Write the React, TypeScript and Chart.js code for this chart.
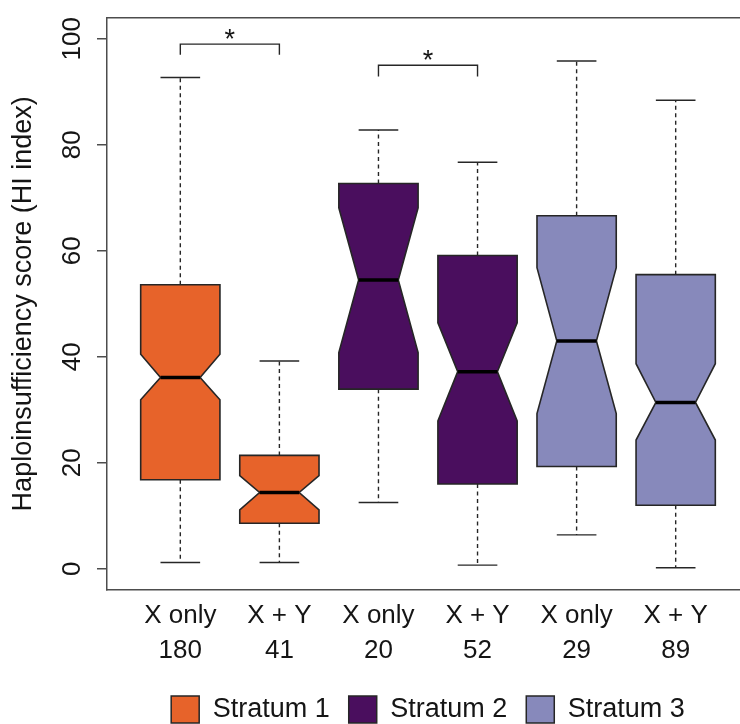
import { useEffect, useRef } from "react";
import { Chart, registerables } from "chart.js";

Chart.register(...registerables);

// ---- data ----
const groupLabels = ["X only", "X + Y", "X only", "X + Y", "X only", "X + Y"];
const groupCounts = [180, 41, 20, 52, 29, 89];
const groupPositions = [1, 2, 3, 4, 5, 6];
const groupStratum = [0, 0, 1, 1, 2, 2];
const strataNames = ["Stratum 1", "Stratum 2", "Stratum 3"];
const strataColors = ["#E7632A", "#4A0E5E", "#8789BB"];

const whiskerLow = [1.2, 1.2, 12.5, 0.7, 6.4, 0.2];
const quartile1 = [16.8, 8.6, 33.9, 16.0, 19.3, 12.0];
const notchLow = [31.9, 11.1, 40.8, 27.9, 29.3, 24.3];
const medians = [36.1, 14.4, 54.5, 37.2, 43.0, 31.4];
const notchHigh = [40.5, 17.6, 68.1, 46.4, 56.8, 38.7];
const quartile3 = [53.6, 21.4, 72.7, 59.1, 66.6, 55.5];
const whiskerHigh = [92.7, 39.2, 82.8, 76.7, 95.8, 88.4];

const yTickValues = [0, 20, 40, 60, 80, 100];

const bracketFrom = [1, 3];
const bracketTo = [2, 4];
const bracketTop = [99, 95];
const bracketFoot = [97, 92.9];
const bracketLabel = ["*", "*"];

// ---- style ----
const FONT = "'Liberation Sans', Arial, Helvetica, sans-serif";
const LINE = "#262626";
const FRAME = "#4d4d4d";
const TEXT = "#151515";
const BOX_HALF = 0.4;
const NOTCH_HALF = 0.2;
const CAP_HALF = 0.2;

const boxplotPlugin = {
  id: "notchedBoxplot",
  afterDatasetsDraw(chart: any) {
    const { ctx } = chart;
    const xs = chart.scales.x;
    const ys = chart.scales.y;
    const px = (v: number) => xs.getPixelForValue(v);
    const py = (v: number) => ys.getPixelForValue(v);
    const seg = (x1: number, y1: number, x2: number, y2: number) => {
      ctx.beginPath();
      ctx.moveTo(x1, y1);
      ctx.lineTo(x2, y2);
      ctx.stroke();
    };
    ctx.save();
    for (let i = 0; i < groupPositions.length; i++) {
      const s = groupStratum[i];
      if (!chart.isDatasetVisible(s)) continue;
      const x = groupPositions[i];
      const cx = px(x);
      // whiskers
      ctx.strokeStyle = LINE;
      ctx.lineWidth = 1.4;
      ctx.setLineDash([4, 3.5]);
      seg(cx, py(quartile3[i]), cx, py(whiskerHigh[i]));
      seg(cx, py(quartile1[i]), cx, py(whiskerLow[i]));
      ctx.setLineDash([]);
      seg(px(x - CAP_HALF), py(whiskerHigh[i]), px(x + CAP_HALF), py(whiskerHigh[i]));
      seg(px(x - CAP_HALF), py(whiskerLow[i]), px(x + CAP_HALF), py(whiskerLow[i]));
      // notched box
      ctx.beginPath();
      ctx.moveTo(px(x - BOX_HALF), py(quartile1[i]));
      ctx.lineTo(px(x - BOX_HALF), py(notchLow[i]));
      ctx.lineTo(px(x - NOTCH_HALF), py(medians[i]));
      ctx.lineTo(px(x - BOX_HALF), py(notchHigh[i]));
      ctx.lineTo(px(x - BOX_HALF), py(quartile3[i]));
      ctx.lineTo(px(x + BOX_HALF), py(quartile3[i]));
      ctx.lineTo(px(x + BOX_HALF), py(notchHigh[i]));
      ctx.lineTo(px(x + NOTCH_HALF), py(medians[i]));
      ctx.lineTo(px(x + BOX_HALF), py(notchLow[i]));
      ctx.lineTo(px(x + BOX_HALF), py(quartile1[i]));
      ctx.closePath();
      ctx.fillStyle = strataColors[s];
      ctx.fill();
      ctx.lineWidth = 1.6;
      ctx.strokeStyle = LINE;
      ctx.lineJoin = "miter";
      ctx.stroke();
      // median
      ctx.strokeStyle = "#000";
      ctx.lineWidth = 3.5;
      seg(px(x - NOTCH_HALF), py(medians[i]), px(x + NOTCH_HALF), py(medians[i]));
    }
    // significance brackets
    ctx.strokeStyle = LINE;
    ctx.lineWidth = 1.4;
    for (let b = 0; b < bracketFrom.length; b++) {
      ctx.beginPath();
      ctx.moveTo(px(bracketFrom[b]), py(bracketFoot[b]));
      ctx.lineTo(px(bracketFrom[b]), py(bracketTop[b]));
      ctx.lineTo(px(bracketTo[b]), py(bracketTop[b]));
      ctx.lineTo(px(bracketTo[b]), py(bracketFoot[b]));
      ctx.stroke();
      ctx.fillStyle = TEXT;
      ctx.font = `27px ${FONT}`;
      ctx.textAlign = "center";
      ctx.textBaseline = "alphabetic";
      ctx.fillText(bracketLabel[b], px((bracketFrom[b] + bracketTo[b]) / 2), py(bracketTop[b]) + 4);
    }
    ctx.restore();
  },
};

export default function App() {
  const ref = useRef<HTMLCanvasElement>(null);
  useEffect(() => {
    if (!ref.current) return;
    Chart.defaults.font.family = FONT;
    const chart = new Chart(ref.current, {
      type: "scatter",
      data: {
        datasets: strataNames.map((name, s) => ({
          label: name,
          data: groupPositions
            .map((x, i) => ({ x, y: medians[i] }))
            .filter((_, i) => groupStratum[i] === s),
          backgroundColor: strataColors[s],
          borderColor: LINE,
          borderWidth: 1.5,
          pointRadius: 0,
          pointHoverRadius: 0,
          showLine: false,
        })),
      },
      options: {
        animation: false,
        responsive: false,
        devicePixelRatio: 1,
        events: [],
        layout: { padding: { top: 14, left: 0, right: 0, bottom: 0 } },
        scales: {
          x: {
            type: "linear",
            position: "bottom",
            min: 0.26,
            max: 6.74,
            afterBuildTicks: (scale: any) => {
              scale.ticks = groupPositions.map((v) => ({ value: v }));
            },
            afterFit: (scale: any) => {
              scale.height = 87;
            },
            ticks: {
              autoSkip: false,
              maxRotation: 0,
              minRotation: 0,
              padding: 8,
              color: TEXT,
              font: { size: 26, lineHeight: "35px" } as any,
              callback: (_v: any, index: number) => [groupLabels[index], String(groupCounts[index])],
            },
            grid: { display: false, drawTicks: false },
            border: { display: true, color: FRAME, width: 1.5 },
          },
          x2: {
            type: "linear",
            position: "top",
            display: true,
            ticks: { display: false },
            grid: { display: false, drawTicks: false },
            border: { display: true, color: FRAME, width: 1.5 },
          },
          y: {
            type: "linear",
            position: "left",
            min: -4,
            max: 104,
            afterBuildTicks: (scale: any) => {
              scale.ticks = yTickValues.map((v) => ({ value: v }));
            },
            afterFit: (scale: any) => {
              scale.width = 107;
            },
            ticks: {
              minRotation: 90,
              maxRotation: 90,
              crossAlign: "center",
              padding: 2,
              color: TEXT,
              font: { size: 26 },
            },
            grid: {
              display: true,
              drawOnChartArea: false,
              drawTicks: true,
              tickLength: 10,
              color: FRAME,
              lineWidth: 1.5,
            },
            border: { display: true, color: FRAME, width: 1.5 },
            title: {
              display: true,
              text: "Haploinsufficiency score (HI index)",
              color: TEXT,
              font: { size: 27 },
              padding: { top: 7, bottom: 0 },
            },
          },
          y2: {
            type: "linear",
            position: "right",
            display: true,
            afterFit: (scale: any) => {
              scale.width = 107;
            },
            ticks: { display: false },
            grid: { display: false, drawTicks: false },
            border: { display: true, color: FRAME, width: 1.5 },
          },
        },
        plugins: {
          tooltip: { enabled: false },
          legend: {
            display: true,
            position: "bottom",
            align: "center",
            labels: {
              color: TEXT,
              font: { size: 27 },
              boxWidth: 28,
              boxHeight: 27,
              padding: 19,
            },
          },
        },
      } as any,
      plugins: [boxplotPlugin],
    });
    return () => chart.destroy();
  }, []);

  return (
    <div
      style={{
        position: "fixed",
        left: 0,
        top: 0,
        width: 740,
        height: 724,
        overflow: "hidden",
        background: "#fff",
      }}
    >
      <canvas ref={ref} width={856} height={733} style={{ display: "block" }} />
    </div>
  );
}
